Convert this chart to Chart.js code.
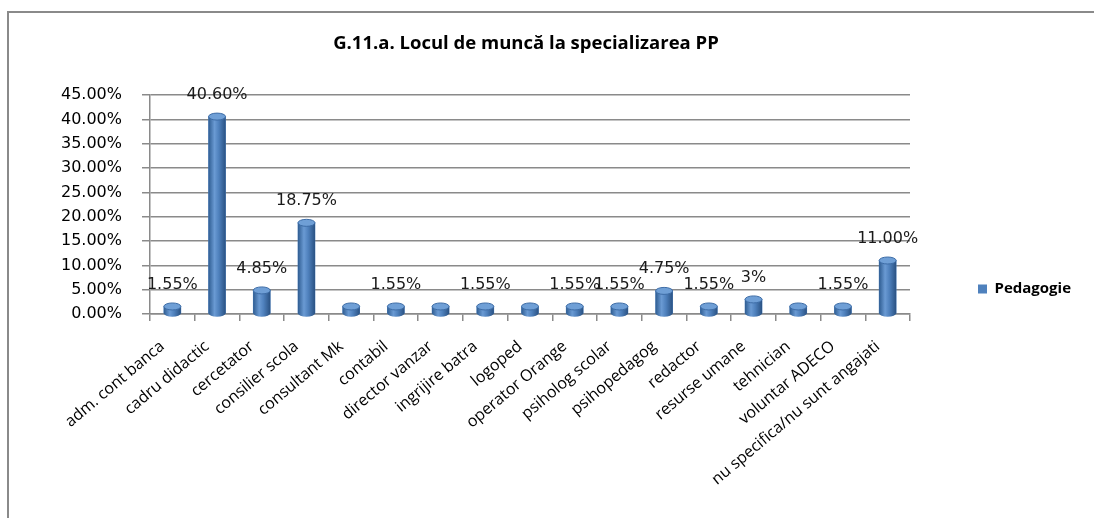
<!DOCTYPE html>
<html>
<head>
<meta charset="utf-8">
<script src="https://cdn.jsdelivr.net/npm/chart.js@4.4.1/dist/chart.umd.min.js"></script>
<style>
  body { margin: 0; background: #fff; }
  #frame {
    position: absolute; left: 7px; top: 11px; width: 1200px; height: 600px;
    border-left: 2px solid #8a8a8a; border-top: 2px solid #8a8a8a;
  }
  #wrap { position: absolute; left: 0; top: 0; width: 1094px; height: 518px; }
</style>
</head>
<body>
<div id="frame"></div>
<div id="wrap"><canvas id="chart" width="1094" height="518"></canvas></div>
<script>
const categories = ['adm. cont banca', 'cadru didactic', 'cercetator', 'consilier scola', 'consultant Mk',
  'contabil', 'director vanzar', 'ingrijire batra', 'logoped', 'operator Orange', 'psiholog scolar',
  'psihopedagog', 'redactor', 'resurse umane', 'tehnician', 'voluntar ADECO', 'nu specifica/nu sunt angajati'];
const values = [1.55, 40.6, 4.85, 18.75, 1.55, 1.55, 1.55, 1.55, 1.55, 1.55, 1.55, 4.75, 1.55, 3, 1.55, 1.55, 11];
const valueLabels = ['1.55%', '40.60%', '4.85%', '18.75%', '', '1.55%', '', '1.55%', '', '1.55%', '1.55%',
  '4.75%', '1.55%', '3%', '', '1.55%', '11.00%'];
const yMax = 45;
const yStep = 5;

// cylinders + data labels
const cylinderPlugin = {
  id: 'cylinders',
  afterDatasetsDraw(chart) {
    const ctx = chart.ctx;
    const meta = chart.getDatasetMeta(0);
    meta.data.forEach((el, i) => {
      const w = el.width, x0 = el.x - w / 2, x1 = el.x + w / 2;
      const ry = 3.5;
      const g = ctx.createLinearGradient(x0, 0, x1, 0);
      g.addColorStop(0, '#2f5d92');
      g.addColorStop(0.35, '#6a9ad3');
      g.addColorStop(0.6, '#4f81bd');
      g.addColorStop(1, '#2a5283');
      ctx.save();
      ctx.beginPath();
      ctx.moveTo(x0, el.y);
      ctx.lineTo(x0, el.base);
      ctx.ellipse(el.x, el.base, w / 2, ry, 0, Math.PI, 0, true);
      ctx.lineTo(x1, el.y);
      ctx.closePath();
      ctx.fillStyle = g;
      ctx.fill();
      ctx.beginPath();
      ctx.ellipse(el.x, el.y, w / 2, ry, 0, 0, Math.PI * 2);
      ctx.fillStyle = '#6f9fd6';
      ctx.fill();
      ctx.strokeStyle = '#3d6ca6';
      ctx.lineWidth = 1;
      ctx.stroke();
      ctx.restore();

      if (valueLabels[i]) {
        ctx.save();
        ctx.font = '16px "DejaVu Sans"';
        ctx.fillStyle = '#1a1a1a';
        ctx.textAlign = 'center';
        ctx.textBaseline = 'bottom';
        ctx.fillText(valueLabels[i], el.x, el.y - 14);
        ctx.restore();
      }
    });
  }
};

new Chart(document.getElementById('chart'), {
  type: 'bar',
  data: {
    labels: categories,
    datasets: [{
      label: 'Pedagogie',
      data: values,
      backgroundColor: '#4f81bd',
      barThickness: 17
    }]
  },
  options: {
    responsive: false,
    animation: false,
    layout: { padding: { left: -28, right: 14, top: 0, bottom: 0 } },
    plugins: {
      title: {
        display: true,
        text: 'G.11.a. Locul de muncă la specializarea PP',
        color: '#000',
        font: { family: 'Open Sans', size: 18.5, weight: 'bold' },
        padding: { top: 33, bottom: 40 }
      },
      legend: {
        position: 'right',
        align: 'start',
        fullSize: false,
        maxWidth: 170,
        title: { display: true, text: '', padding: { top: 0, bottom: 104 } },
        labels: {
          boxWidth: 9, boxHeight: 9, padding: 68, color: '#000',
          font: { family: 'Open Sans', size: 15, weight: 'bold' }
        }
      },
      tooltip: { enabled: false }
    },
    scales: {
      x: {
        grid: { drawOnChartArea: false, drawTicks: true, tickLength: 7, offset: true, color: '#8a8a8a', lineWidth: 1.5 },
        border: { display: true, color: '#8a8a8a', width: 1.5 },
        ticks: {
          autoSkip: false, minRotation: 40, maxRotation: 40, padding: 16, labelOffset: -10, color: '#000',
          font: { family: 'Open Sans', size: 16 }
        },
        afterFit(scale) { scale.height = 204; }
      },
      y: {
        min: 0,
        max: yMax,
        ticks: {
          stepSize: yStep, padding: 20, color: '#000',
          font: { family: 'DejaVu Sans', size: 16 },
          callback: v => v.toFixed(2) + '%'
        },
        grid: { color: '#8a8a8a', lineWidth: 1.5, tickLength: 8 },
        border: { display: true, color: '#8a8a8a', width: 1.5 },
        afterFit(scale) { scale.width = 178; }
      }
    }
  },
  plugins: [cylinderPlugin]
});
</script>
</body>
</html>
